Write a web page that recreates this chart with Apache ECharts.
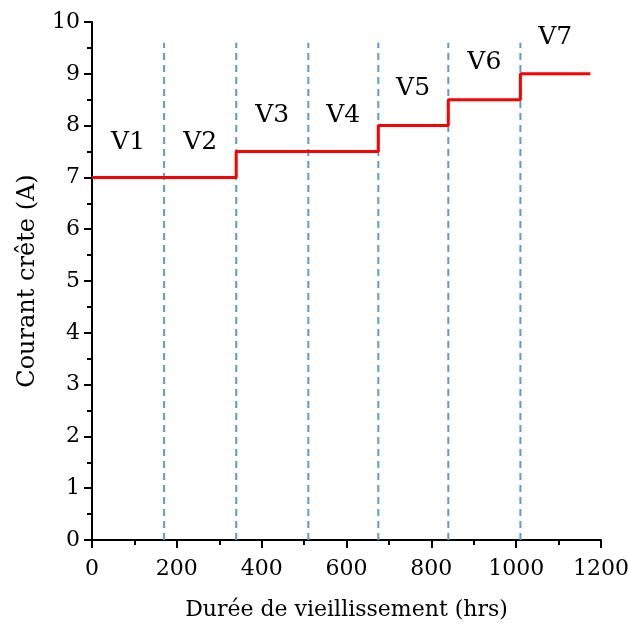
<!DOCTYPE html>
<html>
<head>
<meta charset="utf-8">
<script src="https://cdn.jsdelivr.net/npm/echarts@6/dist/echarts.min.js"></script>
<style>html,body{margin:0;padding:0;background:#fff;}#c{width:628px;height:626px;}</style>
</head>
<body>
<div id="c"></div>
<script>
// Step changes of peak current (x in hrs, y in A)
var stepX = [0, 340, 675, 840, 1010, 1175];
var stepY = [7, 7.5, 8, 8.5, 9, 9];
// Phase boundaries (dashed lines)
var boundaries = [170, 340, 510, 675, 840, 1010];
var boundaryTop = 9.6;
// Phase labels
var phaseNames = ['V1', 'V2', 'V3', 'V4', 'V5', 'V6', 'V7'];
var phaseX = [85, 255, 425, 592, 757, 925, 1092];
var phaseY = [7.68, 7.68, 8.19, 8.19, 8.71, 9.21, 9.71];
var xTicks = [0, 200, 400, 600, 800, 1000, 1200];
var yTicks = [0, 1, 2, 3, 4, 5, 6, 7, 8, 9, 10];

var FONT = 'DejaVu Serif';
var series = [];
boundaries.forEach(function (b) {
  series.push({
    type: 'line', silent: true, symbol: 'none',
    data: [[b, 0], [b, boundaryTop]],
    lineStyle: { color: '#5b9bd5', width: 2, type: [7, 5] },
    z: 2
  });
});
series.push({
  type: 'line', step: 'end', symbol: 'none',
  data: stepX.map(function (x, i) { return [x, stepY[i]]; }),
  lineStyle: { color: '#ff0000', width: 3 },
  z: 5
});
series.push({
  type: 'scatter', symbolSize: 0, silent: true,
  itemStyle: { opacity: 1, color: 'transparent' },
  data: phaseNames.map(function (n, i) { return { name: n, value: [phaseX[i], phaseY[i]] }; }),
  label: { show: true, position: 'inside', formatter: '{b}', color: '#000', opacity: 1,
    fontFamily: FONT, fontSize: 25 },
  z: 6
});

var chart = echarts.init(document.getElementById('c'));
chart.setOption({
  animation: false,
  backgroundColor: '#fff',
  grid: { left: 92, right: 27, top: 22, bottom: 86, containLabel: false, outerBoundsMode: 'none' },
  xAxis: {
    type: 'value', min: 0, max: 1200, interval: 200,
    name: 'Durée de vieillissement (hrs)', nameLocation: 'middle', nameGap: 59,
    nameTextStyle: { fontFamily: FONT, fontSize: 22, color: '#000' },
    axisLine: { show: true, lineStyle: { color: '#000', width: 2 } },
    axisTick: { show: true, length: 8, lineStyle: { color: '#000', width: 2 } },
    minorTick: { show: true, splitNumber: 2, length: 5, lineStyle: { color: '#000', width: 2 } },
    axisLabel: { fontFamily: FONT, fontSize: 22, color: '#000', margin: 18,
      formatter: function (v) { return xTicks.indexOf(v) >= 0 ? String(v) : ''; } },
    splitLine: { show: false }
  },
  yAxis: {
    type: 'value', min: 0, max: 10, interval: 1,
    name: 'Courant crête (A)', nameLocation: 'middle', nameGap: 52, nameRotate: 90,
    nameTextStyle: { fontFamily: FONT, fontSize: 24, color: '#000' },
    axisLine: { show: true, lineStyle: { color: '#000', width: 2 } },
    axisTick: { show: true, length: 8, lineStyle: { color: '#000', width: 2 } },
    minorTick: { show: true, splitNumber: 2, length: 5, lineStyle: { color: '#000', width: 2 } },
    axisLabel: { fontFamily: FONT, fontSize: 22, color: '#000', margin: 12,
      formatter: function (v) { return yTicks.indexOf(v) >= 0 ? String(v) : ''; } },
    splitLine: { show: false }
  },
  series: series
});
</script>
</body>
</html>
